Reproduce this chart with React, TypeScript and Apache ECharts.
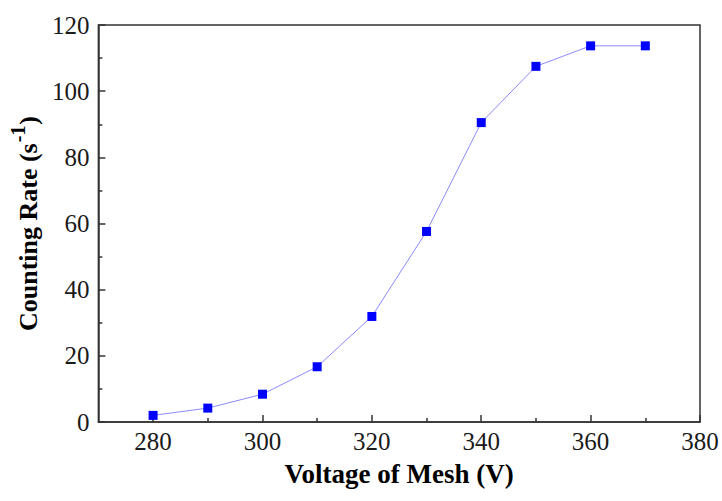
import React, { useEffect, useRef } from "react";
import * as echarts from "echarts";

// Mesh voltage (V) and measured counting rate (s^-1)
const voltages = [280, 290, 300, 310, 320, 330, 340, 350, 360, 370];
const countingRates = [2.0, 4.2, 8.4, 16.7, 31.9, 57.6, 90.5, 107.5, 113.7, 113.7];

// Axis ticks
const xMajorTicks = [280, 300, 320, 340, 360, 380];
const xMinorTicks = [290, 310, 330, 350, 370];
const yTickStep = 20;

const FONT = "Liberation Serif";

export default function App() {
  const ref = useRef<HTMLDivElement>(null);

  useEffect(() => {
    if (!ref.current) return;
    const chart = echarts.init(ref.current, undefined, { renderer: "svg" });
    const axisColor = "#333";
    const tickLabel = {
      fontFamily: FONT,
      fontSize: 25,
      color: "#1a1a1a",
    };
    chart.setOption({
      animation: false,
      backgroundColor: "#fff",
      textStyle: { fontFamily: FONT },
      grid: {
        left: 97,
        right: 22,
        top: 25,
        bottom: 79,
        show: true,
        borderColor: axisColor,
        borderWidth: 1.5,
        backgroundColor: "transparent",
      },
      xAxis: [
        {
          type: "value",
          min: 270,
          max: 380,
          name: "Voltage of Mesh (V)",
          nameLocation: "middle",
          nameGap: 38,
          nameTextStyle: {
            fontFamily: FONT,
            fontWeight: "bold",
            fontSize: 27,
            color: "#000",
          },
          axisLine: { show: true, lineStyle: { color: axisColor, width: 1.5 } },
          axisTick: {
            show: true,
            inside: true,
            length: 7,
            customValues: xMajorTicks,
            lineStyle: { color: axisColor, width: 1.5 },
          },
          axisLabel: {
            ...tickLabel,
            customValues: xMajorTicks,
            margin: 7,
          },
          splitLine: { show: false },
        },
        {
          type: "value",
          min: 270,
          max: 380,
          position: "bottom",
          axisLine: { show: false },
          axisTick: {
            show: true,
            inside: true,
            length: 4,
            customValues: xMinorTicks,
            lineStyle: { color: axisColor, width: 1.5 },
          },
          axisLabel: { show: false },
          splitLine: { show: false },
        },
      ],
      yAxis: {
        type: "value",
        min: 0,
        max: 120,
        interval: yTickStep,
        name: "Counting Rate (s{sup|-1})",
        nameLocation: "middle",
        nameGap: 35,
        nameTextStyle: {
          fontFamily: FONT,
          fontWeight: "bold",
          fontSize: 26,
          color: "#000",
          rich: {
            sup: {
              fontFamily: FONT,
              fontWeight: "bold",
              fontSize: 20,
              color: "#000",
              padding: [0, 1, 20, 1],
            },
          },
        },
        axisLine: { show: true, lineStyle: { color: axisColor, width: 1.5 } },
        axisTick: {
          show: true,
          inside: true,
          length: 7,
          lineStyle: { color: axisColor, width: 1.5 },
        },
        minorTick: {
          show: true,
          splitNumber: 2,
          length: 4,
          lineStyle: { color: axisColor, width: 1.5 },
        },
        axisLabel: {
          ...tickLabel,
          margin: 9,
        },
        splitLine: { show: false },
      },
      series: [
        {
          type: "line",
          data: voltages.map((v, i) => [v, countingRates[i]]),
          symbol: "rect",
          symbolSize: 9,
          itemStyle: { color: "#0000ff" },
          lineStyle: { color: "#8a8aff", width: 1 },
        },
      ],
    });
    return () => chart.dispose();
  }, []);

  return (
    <div
      ref={ref}
      style={{ position: "absolute", left: 0, top: 0, width: 722, height: 501 }}
    />
  );
}
